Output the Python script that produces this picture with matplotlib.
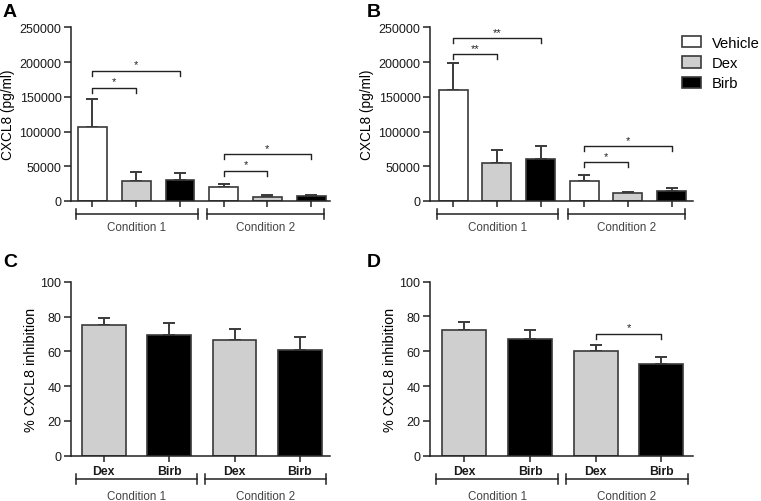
import matplotlib
matplotlib.use('Agg')
import matplotlib.pyplot as plt
import matplotlib.transforms as mtransforms
from matplotlib.patches import Patch

plt.rcParams['font.family'] = ['Liberation Sans', 'DejaVu Sans']

# panel A / B : CXCL8 (pg/ml), groups = Condition 1, Condition 2
a_vehicle = [107000, 19500]
a_vehicle_err = [40000, 5500]
a_dex = [29000, 6000]
a_dex_err = [13000, 2000]
a_birb = [30000, 7000]
a_birb_err = [10000, 1500]

b_vehicle = [160000, 29000]
b_vehicle_err = [38000, 8000]
b_dex = [54000, 11000]
b_dex_err = [20000, 2500]
b_birb = [60000, 14000]
b_birb_err = [19000, 4000]

# panel C / D : % inhibition
c_dex = [75.5, 66.5]
c_dex_err = [3.5, 6.5]
c_birb = [69.5, 61]
c_birb_err = [7, 7.5]

d_dex = [72, 60]
d_dex_err = [4.5, 3.5]
d_birb = [67, 52.5]
d_birb_err = [5, 4]

conditions = ['Condition 1', 'Condition 2']
treatments = ['Vehicle', 'Dex', 'Birb']
inhib_labels = ['Dex', 'Birb', 'Dex', 'Birb']

# significance brackets: (bar i, bar j, height, label)
sig_a = [(0, 1, 163000, '*'), (0, 2, 187000, '*'), (3, 4, 43500, '*'), (3, 5, 67500, '*')]
sig_b = [(0, 1, 211000, '**'), (0, 2, 234000, '**'), (3, 4, 55500, '*'), (3, 5, 78500, '*')]
sig_c = []
sig_d = [(2, 3, 70, '*')]

colors = {'Vehicle': 'white', 'Dex': '#cfcfcf', 'Birb': 'black'}
edge = '#3a3a3a'

W, H = 761, 502
fig = plt.figure(figsize=(W / 100, H / 100), dpi=100)


def px_axes(l, r, top, bottom):
    return fig.add_axes([l / W, 1 - bottom / H, (r - l) / W, (bottom - top) / H])


def style(ax):
    for s in ['top', 'right']:
        ax.spines[s].set_visible(False)
    for s in ['left', 'bottom']:
        ax.spines[s].set_color('#222222')
        ax.spines[s].set_linewidth(1.1)
    ax.tick_params(axis='y', direction='out', length=4.8, width=1.1, color='#222222',
                   labelsize=9, labelcolor='#1a1a1a', pad=2)
    ax.tick_params(axis='x', direction='out', length=4, width=1.1, color='#222222')


def bars(ax, xs, vals, errs, col, width):
    ax.bar(xs, vals, width=width, color=colors[col], edgecolor=edge, linewidth=1.2, zorder=2)
    ax.errorbar(xs, vals, yerr=[[0] * len(vals), errs], fmt='none', ecolor=edge,
                elinewidth=1.4, capsize=4.6, capthick=1.4, zorder=1)


def sig(ax, pairs, xs, hpx):
    ymax = ax.get_ylim()[1]
    drop = 5 / hpx * ymax
    for i, j, y, lab in pairs:
        ax.plot([xs[i], xs[i], xs[j], xs[j]], [y - drop, y, y, y - drop],
                color='#222222', lw=1.0, clip_on=False)
        ax.text((xs[i] + xs[j]) / 2, y + 1.5 / hpx * ymax, lab, ha='center', va='bottom',
                fontsize=8, color='#222222')


def groups(ax, spans, hpx, off_line, off_text):
    tr = mtransforms.blended_transform_factory(ax.transData, ax.transAxes)
    yl = -off_line / hpx
    cap = 5 / hpx
    for (x0, x1), name in zip(spans, conditions):
        ax.plot([x0, x1], [yl, yl], color='#222222', lw=1.1, transform=tr, clip_on=False)
        for xx in (x0, x1):
            ax.plot([xx, xx], [yl - cap, yl + cap], color='#222222', lw=1.1,
                    transform=tr, clip_on=False)
        ax.text((x0 + x1) / 2, -off_text / hpx, name, ha='center', va='center',
                fontsize=8.4, color='#444444', transform=tr)


def panel_ab(ax, veh, veh_e, dex, dex_e, birb, birb_e, pairs, xlim, hpx):
    xs = [0, 1, 2, 3, 4, 5]
    bars(ax, [0, 3], veh, veh_e, 'Vehicle', 0.66)
    bars(ax, [1, 4], dex, dex_e, 'Dex', 0.66)
    bars(ax, [2, 5], birb, birb_e, 'Birb', 0.66)
    ax.set_ylim(0, 250000)
    ax.set_yticks(range(0, 250001, 50000))
    ax.set_xlim(*xlim)
    ax.set_xticks(xs)
    ax.set_xticklabels([])
    ax.set_ylabel('CXCL8 (pg/ml)', fontsize=9.8, labelpad=3)
    style(ax)
    sig(ax, pairs, xs, hpx)
    groups(ax, [(-0.38, 2.41), (2.62, 5.3)], hpx, 13, 26)


def panel_cd(ax, dex, dex_e, birb, birb_e, pairs, xlim, hpx):
    xs = [0, 1, 2, 3]
    bars(ax, [0, 2], dex, dex_e, 'Dex', 0.67)
    bars(ax, [1, 3], birb, birb_e, 'Birb', 0.67)
    ax.set_ylim(0, 100)
    ax.set_yticks(range(0, 101, 20))
    ax.set_xlim(*xlim)
    ax.set_xticks(xs)
    ax.set_xticklabels(inhib_labels, fontsize=8.8, fontweight='bold', color='#1a1a1a')
    ax.tick_params(axis='x', pad=3)
    ax.set_ylabel('% CXCL8 inhibition', fontsize=10.4, labelpad=2)
    style(ax)
    sig(ax, pairs, xs, hpx)
    groups(ax, [(-0.43, 1.43), (1.55, 3.4)], hpx, 23.5, 40)


axA = px_axes(71, 330, 28.3, 202)
panel_ab(axA, a_vehicle, a_vehicle_err, a_dex, a_dex_err, a_birb, a_birb_err, sig_a,
         (-0.49, 5.43), 173.7)

axB = px_axes(430, 693, 28.3, 202)
panel_ab(axB, b_vehicle, b_vehicle_err, b_dex, b_dex_err, b_birb, b_birb_err, sig_b,
         (-0.53, 5.49), 173.7)

axC = px_axes(71, 330, 283, 456.7)
panel_cd(axC, c_dex, c_dex_err, c_birb, c_birb_err, sig_c, (-0.5, 3.46), 173.7)

axD = px_axes(430, 693, 282.5, 456.7)
panel_cd(axD, d_dex, d_dex_err, d_birb, d_birb_err, sig_d, (-0.52, 3.48), 174.2)

handles = [Patch(facecolor=colors[t], edgecolor=edge, linewidth=1.2) for t in treatments]
fig.legend(handles, treatments, loc='upper left', bbox_to_anchor=(676 / W, 1 - 31 / H),
           frameon=False, fontsize=10.6, handlelength=1.3, handleheight=0.8,
           labelspacing=0.42, handletextpad=0.75, borderaxespad=0)

for lab, x, y in [('A', 3, 4), ('B', 367, 4), ('C', 3, 254), ('D', 367, 254)]:
    fig.text(x / W, 1 - y / H, lab, fontsize=14, fontweight='bold', va='top', ha='left')

fig.savefig('out.png', dpi=100)
